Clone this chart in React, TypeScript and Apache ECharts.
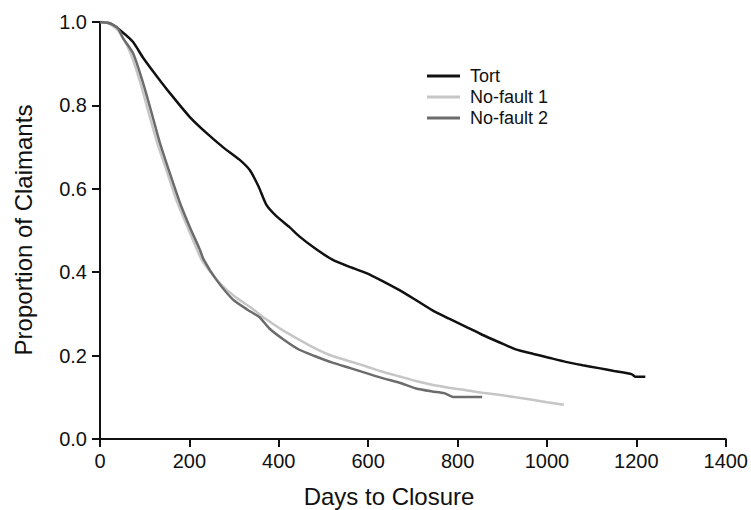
import React, { useEffect, useRef } from "react";
import * as echarts from "echarts";

const xTicks = [0, 200, 400, 600, 800, 1000, 1200, 1400];
const yTicks = [0, 0.2, 0.4, 0.6, 0.8, 1.0];

const seriesNames = ["Tort", "No-fault 1", "No-fault 2"];

const tort: [number, number][] = [
  [0, 1.0], [22, 0.997], [51, 0.975], [74, 0.952], [96, 0.915], [127, 0.87],
  [156, 0.83], [201, 0.772], [238, 0.734], [275, 0.7], [312, 0.67], [335, 0.645],
  [355, 0.605], [372, 0.562], [394, 0.535], [424, 0.508], [446, 0.486], [480, 0.458],
  [520, 0.43], [560, 0.412], [596, 0.398], [630, 0.38], [670, 0.357], [707, 0.333],
  [743, 0.309], [780, 0.289], [819, 0.269], [855, 0.25], [893, 0.232], [930, 0.215],
  [970, 0.204], [1004, 0.195], [1042, 0.185], [1080, 0.177], [1116, 0.17],
  [1150, 0.163], [1190, 0.155], [1198, 0.149], [1220, 0.149],
];

const noFault1: [number, number][] = [
  [0, 1.0], [20, 0.997], [40, 0.98], [55, 0.955], [70, 0.92], [90, 0.855],
  [112, 0.77], [128, 0.71], [150, 0.64], [172, 0.57], [195, 0.51], [225, 0.435],
  [240, 0.41], [268, 0.374], [300, 0.343], [335, 0.317], [372, 0.287], [410, 0.26],
  [446, 0.238], [480, 0.218], [520, 0.199], [560, 0.186], [596, 0.174], [630, 0.162],
  [670, 0.15], [707, 0.139], [743, 0.13], [780, 0.123], [819, 0.117], [855, 0.111],
  [893, 0.106], [930, 0.1], [967, 0.094], [1000, 0.088], [1038, 0.082],
];

const noFault2: [number, number][] = [
  [0, 1.0], [20, 0.997], [40, 0.985], [51, 0.962], [74, 0.925], [96, 0.855],
  [118, 0.772], [134, 0.71], [156, 0.638], [179, 0.566], [201, 0.508], [223, 0.455],
  [232, 0.43], [261, 0.381], [297, 0.335], [330, 0.31], [357, 0.292], [379, 0.265],
  [409, 0.24], [446, 0.214], [480, 0.199], [520, 0.183], [560, 0.17], [596, 0.158],
  [632, 0.146], [670, 0.135], [707, 0.121], [743, 0.114], [770, 0.11], [790, 0.101],
  [820, 0.101], [855, 0.101],
];

const colors = ["#111111", "#c6c6c6", "#6c6c6c"];
const FONT = "'Liberation Sans', Arial, Helvetica, sans-serif";

export default function App() {
  const ref = useRef<HTMLDivElement>(null);
  useEffect(() => {
    document.body.style.margin = "0";
    const chart = echarts.init(ref.current!, undefined, { renderer: "svg" });
    const datas = [tort, noFault1, noFault2];
    chart.setOption({
      animation: false,
      backgroundColor: "#ffffff",
      textStyle: { fontFamily: FONT },
      grid: { left: 100, right: 24, top: 22, bottom: 71, containLabel: false },
      legend: {
        orient: "vertical",
        left: 422,
        top: 62,
        padding: 5,
        itemWidth: 33,
        itemHeight: 3,
        itemGap: 3,
        icon: "rect",
        data: seriesNames,
        textStyle: { fontSize: 18, color: "#111", lineHeight: 18, padding: [0, 0, 0, 5], fontFamily: FONT },
      },
      xAxis: {
        type: "value",
        min: xTicks[0],
        max: xTicks[xTicks.length - 1],
        interval: 200,
        splitLine: { show: false },
        axisLine: { show: true, onZero: false, lineStyle: { color: "#111", width: 2 } },
        axisTick: { show: true, length: 8, lineStyle: { color: "#111", width: 2 } },
        axisLabel: { fontSize: 20, color: "#111", margin: 12, fontFamily: FONT, formatter: (v: number) => String(v) },
      },
      yAxis: {
        type: "value",
        min: yTicks[0],
        max: yTicks[yTicks.length - 1],
        interval: 0.2,
        splitLine: { show: false },
        axisLine: { show: true, onZero: false, lineStyle: { color: "#111", width: 2 } },
        axisTick: { show: true, length: 8, lineStyle: { color: "#111", width: 2 } },
        axisLabel: { fontSize: 20, color: "#111", margin: 13, fontFamily: FONT, formatter: (v: number) => v.toFixed(1) },
      },
      graphic: [
        {
          type: "text",
          x: 389,
          y: 496,
          style: { text: "Days to Closure", fontSize: 24, fill: "#111", align: "center", verticalAlign: "middle", fontFamily: FONT },
        },
        {
          type: "text",
          x: 23,
          y: 230,
          rotation: Math.PI / 2,
          style: { text: "Proportion of Claimants", fontSize: 24, fill: "#111", align: "center", verticalAlign: "middle", fontFamily: FONT },
        },
      ],
      series: seriesNames.map((name, i) => ({
        name,
        type: "line",
        data: datas[i],
        showSymbol: false,
        symbol: "none",
        smooth: 0.2,
        color: colors[i],
        lineStyle: { color: colors[i], width: 2.5 },
        z: 2 + i,
      })),
    });
    return () => chart.dispose();
  }, []);
  return <div ref={ref} style={{ width: 751, height: 510 }} />;
}
